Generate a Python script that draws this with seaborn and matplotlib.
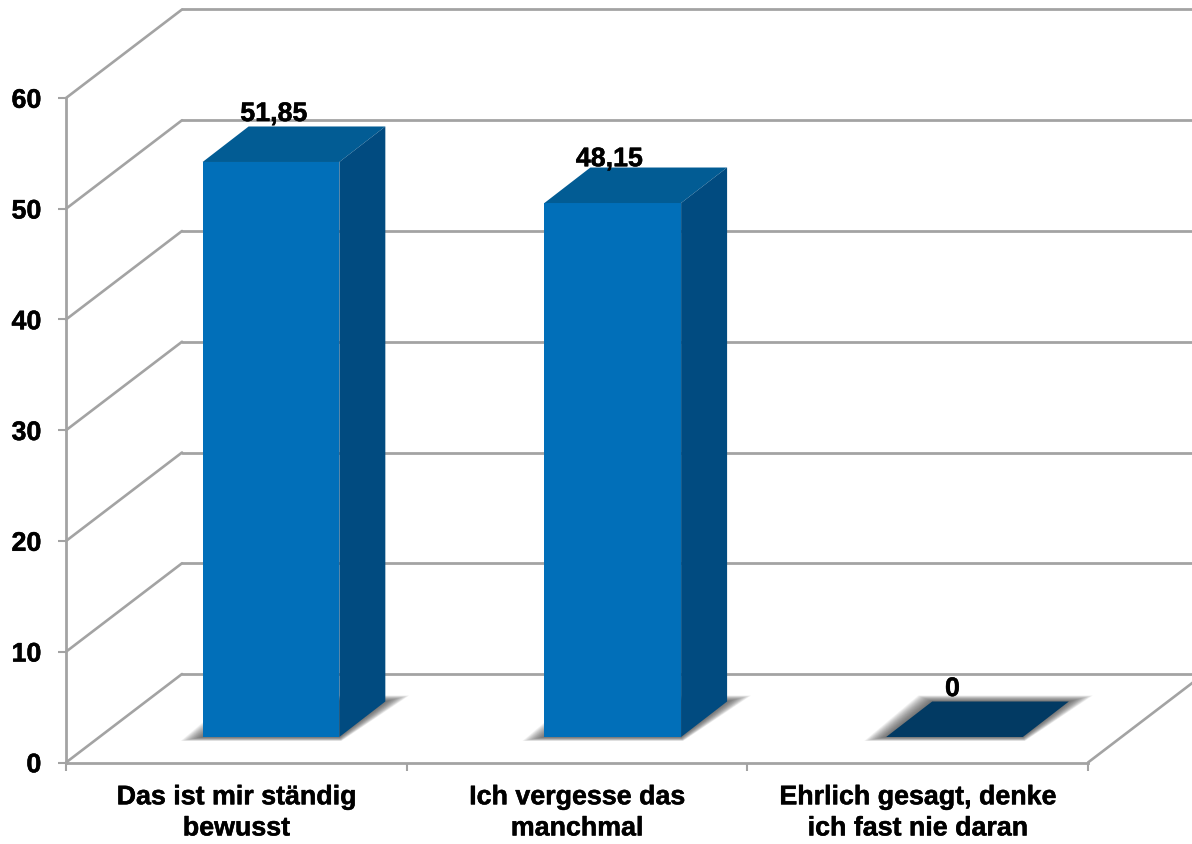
import matplotlib
matplotlib.use("Agg")
import matplotlib.pyplot as plt
import matplotlib.patheffects as pe
from matplotlib.patches import Polygon
from matplotlib.transforms import ScaledTranslation
import seaborn as sns
import pandas as pd

categories = ["Das ist mir ständig\nbewusst", "Ich vergesse das\nmanchmal", "Ehrlich gesagt, denke\nich fast nie daran"]
values = [51.85, 48.15, 0]
value_labels = ["51,85", "48,15", "0"]
y_ticks = [0, 10, 20, 30, 40, 50, 60]
label_nudges = [(2, 29.5), (-2.5, 26.5), (-1.5, 29.5)]

W, H = 1192, 844
DPI = 100
GRID = "#a3a3a3"
FRONT, TOP, SIDE, ZERO = "#016fb9", "#025c94", "#014b80", "#023a63"
FS = 19.3
BOLDER = [pe.withStroke(linewidth=0.35, foreground="black")]

sns.set_theme(style="white")
plt.rcParams["font.family"] = ["Liberation Sans", "DejaVu Sans"]
plt.rcParams["text.hinting"] = "none"

fig = plt.figure(figsize=(W / DPI, H / DPI), dpi=DPI, facecolor="white")

def rect(l, r, bottom_px, top_px):
    return [l / W, 1 - bottom_px / H, (r - l) / W, (bottom_px - top_px) / H]

# Front plane of the chart: carries the axes, ticks and labels
ax = fig.add_axes(rect(66, 1088, 762.5, 98), zorder=1)
ax.set_facecolor("none")
ax.set_xlim(-0.5, 2.5)
ax.set_ylim(0, 60)
ax.set_yticks(y_ticks)
ax.set_xticks(range(len(categories)))
ax.set_xticklabels(categories, fontsize=FS, fontweight="bold", color="black", linespacing=1.3,
                   path_effects=BOLDER)
ax.set_xticks([-0.5, 0.5, 1.5, 2.5], minor=True)
ax.tick_params(axis="x", which="major", length=0, pad=16)
ax.tick_params(axis="x", which="minor", length=5.5, width=1.5, color=GRID, bottom=True)
ax.tick_params(axis="y", length=5.8, width=1.5, color=GRID, pad=12, left=True)
for lab in ax.get_yticklabels():
    lab.set_fontsize(FS)
    lab.set_fontweight("bold")
    lab.set_color("black")
    lab.set_verticalalignment("center_baseline")
    lab.set_path_effects(BOLDER)
for s in ["top", "right"]:
    ax.spines[s].set_visible(False)
for s in ["left", "bottom"]:
    ax.spines[s].set_color(GRID)
    ax.spines[s].set_linewidth(2)

# Back wall, floor and side-wall lines, offset by the chart's depth
back = ax.transData + ScaledTranslation(116 / DPI, 88.5 / DPI, fig.dpi_scale_trans)
for t in y_ticks:
    ax.plot([-0.5, 2.5], [t, t], transform=back, color=GRID, lw=2, clip_on=False, zorder=1,
            solid_capstyle="round")
    x0, y0 = ax.transData.transform((-0.5, t))
    x1, y1 = back.transform((-0.5, t))
    fig.add_artist(plt.Line2D([x0 / W, x1 / W], [y0 / H, y1 / H], color=GRID, lw=1.9, zorder=0.5))
x0, y0 = ax.transData.transform((2.5, 0))
x1, y1 = back.transform((2.5, 0))
fig.add_artist(plt.Line2D([x0 / W, x1 / W], [y0 / H, y1 / H], color=GRID, lw=1.9, zorder=0.5))

# Plane through which the bars stand (set in from the front by the gap depth)
ax_bar = fig.add_axes(rect(271 - 170.9, 954.5 + 170.9, 737, 737 - 60 * 11.09), zorder=2)
ax_bar.set_facecolor("none")
df = pd.DataFrame({"category": categories, "value": values})
sns.barplot(data=df, x="category", y="value", color=FRONT, saturation=1, width=0.4, ax=ax_bar,
            zorder=3, linewidth=0)
ax_bar.set_xlim(-0.5, 2.5)
ax_bar.set_ylim(0, 60)
ax_bar.axis("off")

dx = 46 / 341.8    # bar depth, x data units
dy = 35.5 / 11.09  # bar depth, y data units
ppx = 1 / 341.8
ppy = 1 / 11.09

for patch, val, lab, nudge in zip(ax_bar.patches, values, value_labels, label_nudges):
    x, w, h = patch.get_x(), patch.get_width(), patch.get_height()
    # soft floor shadow built from stacked translucent shapes
    n = 22
    for k in range(n):
        f = 1 - k / n
        poly = [(x - 22 * ppx * f, -4 * f * ppy), (x + w + 2 * ppx * f, -4 * f * ppy),
                (x + w + dx + 24 * ppx * f, dy + 6 * f * ppy), (x + dx - 14 * ppx * f, dy + 6 * f * ppy)]
        ax_bar.add_patch(Polygon(poly, closed=True, facecolor="#444444", edgecolor="none",
                                 alpha=0.05, zorder=1.5, clip_on=False))
    ax_bar.add_patch(Polygon([(x, h), (x + w, h), (x + w + dx, h + dy), (x + dx, h + dy)], closed=True,
                             facecolor=TOP if h > 0 else ZERO, edgecolor="none", zorder=3, clip_on=False))
    if h > 0:
        ax_bar.add_patch(Polygon([(x + w, 0), (x + w + dx, dy), (x + w + dx, h + dy), (x + w, h)], closed=True,
                                 facecolor=SIDE, edgecolor="none", zorder=3, clip_on=False))
    ax_bar.annotate(lab, (x + w / 2, h), xytext=nudge, textcoords="offset points", ha="center", va="baseline",
                    fontsize=FS, fontweight="bold", color="black", zorder=5, annotation_clip=False,
                    path_effects=BOLDER)

fig.savefig("out.png", dpi=DPI, facecolor="white")
